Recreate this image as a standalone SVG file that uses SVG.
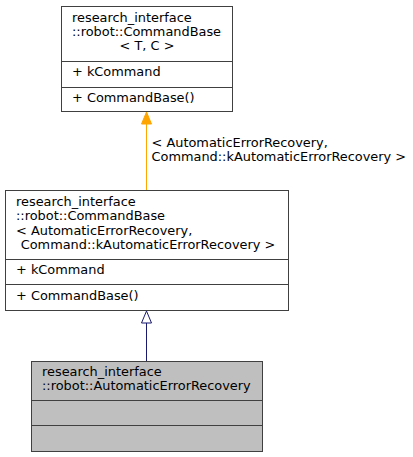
<svg xmlns="http://www.w3.org/2000/svg" width="413" height="457" viewBox="0 0 413 457">
<style>
text{font-family:"DejaVu Sans","Liberation Sans",sans-serif;font-size:12.9px;fill:#000}
.box{fill:#fff;stroke:#404040;stroke-width:1}
.cur{fill:#bfbfbf;stroke:#404040;stroke-width:1}
.div{stroke:#404040;stroke-width:1}
.mid{text-anchor:middle}
</style>
<rect width="413" height="457" fill="#fff"/>
<g id="connectors">
<g id="edge-inherit">
<line x1="146.5" y1="361" x2="146.5" y2="323" stroke="#191970" stroke-width="1"/>
<polygon points="146.5,311 141.5,323 151.5,323" fill="#fff" stroke="#191970" stroke-width="1"/>
</g>
<g id="edge-template">
<line x1="146.5" y1="190" x2="146.5" y2="124" stroke="#ffa500" stroke-width="1"/>
<polygon points="146.5,112 141.5,124 151.5,124" fill="#ffa500" stroke="#ffa500" stroke-width="1"/>
<text x="151.5" y="147">&lt; AutomaticErrorRecovery,</text>
<text x="151.5" y="161">Command::kAutomaticErrorRecovery &gt;</text>
</g>
</g>
<g id="node-template">
<rect class="box" x="61.5" y="6.5" width="171" height="105"/>
<line class="div" x1="61.5" y1="61.5" x2="232.5" y2="61.5"/>
<line class="div" x1="61.5" y1="87.5" x2="232.5" y2="87.5"/>
<text x="72" y="22">research_interface</text>
<text x="72" y="36">::robot::CommandBase</text>
<text class="mid" x="147" y="50">&lt; T, C &gt;</text>
<text x="72" y="76">+ kCommand</text>
<text x="72" y="102">+ CommandBase()</text>
</g>
<g id="node-instance">
<rect class="box" x="5.5" y="190.5" width="283" height="120"/>
<line class="div" x1="5.5" y1="259.5" x2="288.5" y2="259.5"/>
<line class="div" x1="5.5" y1="284.5" x2="288.5" y2="284.5"/>
<text x="16" y="206">research_interface</text>
<text x="16" y="220">::robot::CommandBase</text>
<text x="16" y="235">&lt; AutomaticErrorRecovery,</text>
<text class="mid" x="148" y="249">Command::kAutomaticErrorRecovery &gt;</text>
<text x="16" y="274">+ kCommand</text>
<text x="16" y="300">+ CommandBase()</text>
</g>
<g id="node-aer">
<rect class="cur" x="31.5" y="361.5" width="231" height="90"/>
<line class="div" x1="31.5" y1="400.5" x2="262.5" y2="400.5"/>
<line class="div" x1="31.5" y1="425.5" x2="262.5" y2="425.5"/>
<text x="42" y="376">research_interface</text>
<text x="42" y="390">::robot::AutomaticErrorRecovery</text>
</g>
</svg>
